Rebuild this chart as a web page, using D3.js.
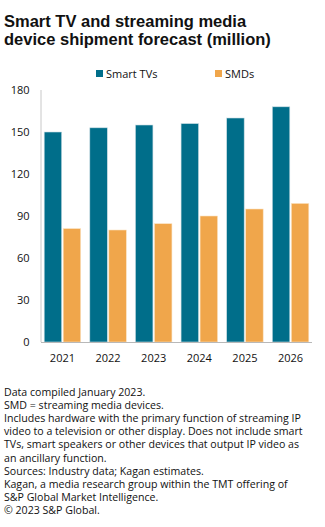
<!DOCTYPE html>
<html>
<head>
<meta charset="utf-8">
<script src="https://cdn.jsdelivr.net/npm/d3@7"></script>
<style>
  body { margin: 0; background: #fff; }
  svg { font-family: "Open Sans", "Liberation Sans", Arial, sans-serif; }
</style>
</head>
<body>
<div id="chart"></div>
<script>
const years = ["2021", "2022", "2023", "2024", "2025", "2026"];
const smartTVs = [150, 153, 155, 156, 160, 168];
const smds = [81, 80, 84.5, 90, 95, 99];
const yTicks = [0, 30, 60, 90, 120, 150, 180];
const seriesNames = ["Smart TVs", "SMDs"];
const colors = ["#006e8a", "#f0a64b"];
const titleLines = ["Smart TV and streaming media", "device shipment forecast (million)"];
const notes = [
  "Data compiled January 2023.",
  "SMD = streaming media devices.",
  "Includes hardware with the primary function of streaming IP",
  "video to a television or other display. Does not include smart",
  "TVs, smart speakers or other devices that output IP video as",
  "an ancillary function.",
  "Sources: Industry data; Kagan estimates.",
  "Kagan, a media research group within the TMT offering of",
  "S&P Global Market Intelligence.",
  "\u00a9 2023 S&P Global."
];

const width = 325, height = 527;
const svg = d3.select("#chart").append("svg")
  .attr("width", width)
  .attr("height", height);

// title
svg.append("g").selectAll("text")
  .data(titleLines)
  .enter().append("text")
  .attr("x", 4)
  .attr("y", (d, i) => 27 + i * 18)
  .attr("font-family", "'Liberation Sans', Arial, sans-serif")
  .attr("font-size", "16.5px")
  .attr("font-weight", "bold")
  .attr("fill", "#111")
  .text(d => d);

// legend
const legendX = [96, 215];
const legend = svg.append("g").selectAll("g")
  .data(seriesNames)
  .enter().append("g")
  .attr("transform", (d, i) => `translate(${legendX[i]},0)`);
legend.append("rect")
  .attr("x", 0).attr("y", 70)
  .attr("width", 7).attr("height", 7)
  .attr("fill", (d, i) => colors[i]);
legend.append("text")
  .attr("x", 10).attr("y", 77.5)
  .attr("font-size", "11px")
  .attr("fill", "#111")
  .text(d => d);

const plotLeft = 41, plotRight = 312, plotTop = 90, plotBottom = 342;

const x = d3.scaleBand().domain(years).range([plotLeft, plotRight]).paddingInner(0.2).paddingOuter(0.07);
const xs = d3.scaleBand().domain(seriesNames).range([0, x.bandwidth()]).paddingInner(0.08);
const y = d3.scaleLinear().domain([0, 180]).range([plotBottom, plotTop]);

// y axis labels
svg.append("g").selectAll("text")
  .data(yTicks)
  .enter().append("text")
  .attr("x", 29.5)
  .attr("y", d => y(d) + 4)
  .attr("text-anchor", "end")
  .attr("font-size", "11px")
  .attr("fill", "#111")
  .text(d => d);

// bars
const groups = svg.append("g").selectAll("g")
  .data(years)
  .enter().append("g")
  .attr("transform", d => `translate(${x(d)},0)`);

groups.selectAll("rect")
  .data((d, i) => [smartTVs[i], smds[i]].map((v, k) => ({ key: seriesNames[k], value: v, k })))
  .enter().append("rect")
  .attr("x", d => xs(d.key))
  .attr("width", xs.bandwidth())
  .attr("y", d => y(d.value))
  .attr("height", d => plotBottom - y(d.value))
  .attr("fill", d => colors[d.k])
  .attr("stroke", d => d.k === 0 ? "#c9dde3" : "#fbe3c4")
  .attr("stroke-width", 0.6);

// axis lines
svg.append("line")
  .attr("x1", plotLeft).attr("x2", plotLeft)
  .attr("y1", plotTop).attr("y2", plotBottom)
  .attr("stroke", "#c8c8c8").attr("stroke-width", 1);
svg.append("line")
  .attr("x1", plotLeft).attr("x2", plotRight)
  .attr("y1", plotBottom + 0.5).attr("y2", plotBottom + 0.5)
  .attr("stroke", "#b8b8b8").attr("stroke-width", 1.2);

// x labels
svg.append("g").selectAll("text")
  .data(years)
  .enter().append("text")
  .attr("x", d => x(d) + x.bandwidth() / 2)
  .attr("y", 362)
  .attr("text-anchor", "middle")
  .attr("font-size", "11px")
  .attr("fill", "#111")
  .text(d => d);

// footnotes
svg.append("g").selectAll("text")
  .data(notes)
  .enter().append("text")
  .attr("x", 4)
  .attr("y", (d, i) => 396 + i * 13.1)
  .attr("font-size", "10.6px")
  .attr("fill", "#111")
  .text(d => d);
</script>
</body>
</html>
